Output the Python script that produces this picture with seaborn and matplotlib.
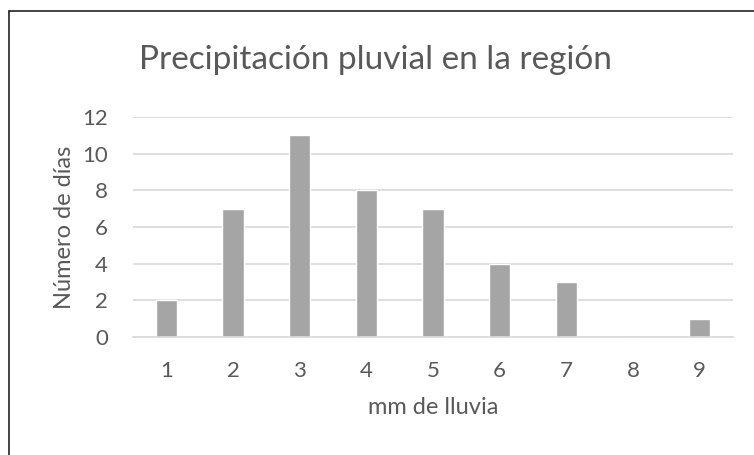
import matplotlib
matplotlib.use("Agg")
import matplotlib.pyplot as plt
from matplotlib.lines import Line2D
import pandas as pd
import seaborn as sns

# data
mm_lluvia = ["1", "2", "3", "4", "5", "6", "7", "8", "9"]
num_dias = [2, 7, 11, 8, 7, 4, 3, 0, 1]
y_ticks = [0, 2, 4, 6, 8, 10, 12]

TEXT = "#595959"
GRID = "#d9d9d9"
BAR = "#a5a5a5"

sns.set_style("white")
plt.rcParams["font.family"] = ["Lato", "DejaVu Sans"]

df = pd.DataFrame({"mm": mm_lluvia, "dias": num_dias})

fig = plt.figure(figsize=(7.54, 4.55), dpi=100)
ax = fig.add_axes([133 / 754, 1 - 337 / 455, 600 / 754, 220 / 455])

sns.barplot(data=df, x="mm", y="dias", color=BAR, saturation=1,
            width=0.32, ax=ax)

ax.set_ylim(0, 12)
ax.set_yticks(y_ticks)
ax.yaxis.grid(True, color=GRID, linewidth=1.2)
ax.set_axisbelow(True)
for side in ["top", "right", "left"]:
    ax.spines[side].set_visible(False)
ax.spines["bottom"].set_color(GRID)
ax.spines["bottom"].set_linewidth(1.2)
ax.tick_params(axis="both", length=0, labelsize=16, colors=TEXT)
ax.tick_params(axis="y", pad=18)
ax.tick_params(axis="x", pad=17)

ax.set_xlabel("mm de lluvia", fontsize=17, color=TEXT, labelpad=12)
ax.set_ylabel("Número de días", fontsize=17, color=TEXT, labelpad=5)
fig.text(375 / 754, 1 - 60 / 455, "Precipitación pluvial en la región",
         ha="center", va="center", fontsize=24, color=TEXT)

# partial frame seen at the top-left of the picture
fig.add_artist(Line2D([9 / 754, 9 / 754], [0, 1 - 11 / 455],
                      transform=fig.transFigure, color="#222222", linewidth=1.2))
fig.add_artist(Line2D([9 / 754, 1], [1 - 11 / 455, 1 - 11 / 455],
                      transform=fig.transFigure, color="#222222", linewidth=1.2))

fig.savefig("out.png", dpi=100, facecolor="white")
